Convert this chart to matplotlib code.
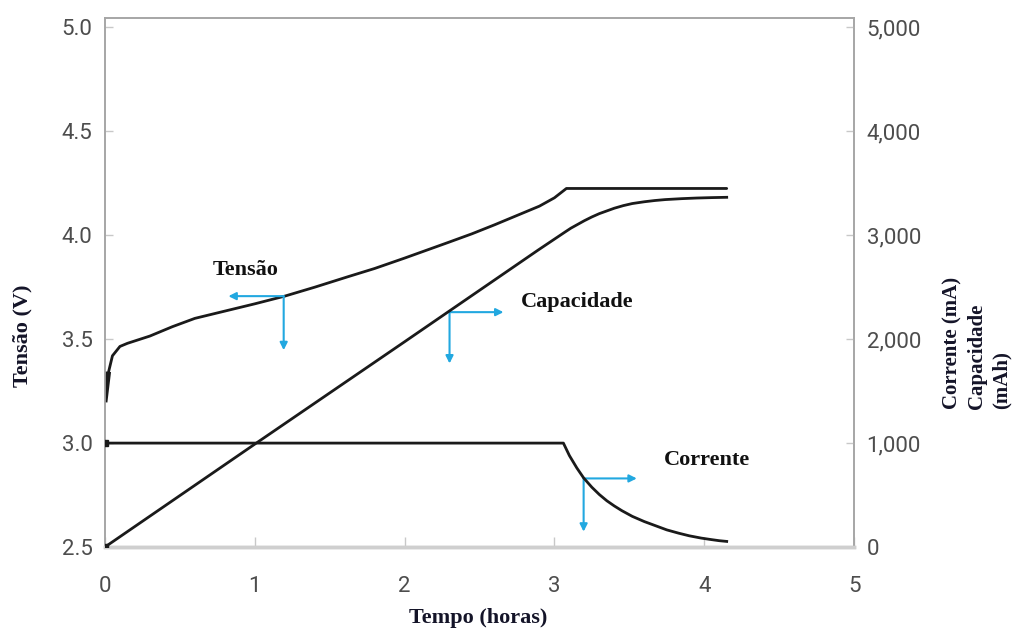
import matplotlib
matplotlib.use("Agg")
import matplotlib.pyplot as plt

# ---- data ----
time_v = [0.0, 0.01, 0.02, 0.05, 0.1, 0.15, 0.3, 0.45, 0.6, 0.8, 1.0, 1.2, 1.4,
          1.62, 1.8, 2.0, 2.29, 2.45, 2.6, 2.75, 2.9, 3.0, 3.08, 4.15]
voltage = [3.21, 3.27, 3.33, 3.42, 3.465, 3.48, 3.515, 3.56, 3.60, 3.635, 3.67,
           3.707, 3.75, 3.80, 3.84, 3.89, 3.965, 4.007, 4.05, 4.095, 4.14, 4.18,
           4.225, 4.225]

time_i = [0.0, 3.06, 3.1, 3.15, 3.195, 3.25, 3.3, 3.35, 3.4, 3.45, 3.52, 3.6,
          3.675, 3.75, 3.83, 3.9, 3.98, 4.05, 4.1, 4.15]
current = [1000, 1000, 880, 760, 665, 575, 505, 445, 395, 350, 295, 245, 205,
           165, 133, 108, 86, 71, 61, 54]

time_c = [0.0, 1.0, 2.0, 2.89, 3.07, 3.11, 3.15, 3.2, 3.25, 3.3, 3.4, 3.46, 3.52,
          3.6, 3.67, 3.74, 3.85, 3.95, 4.05, 4.15]
capacity = [0, 990, 1975, 2856, 3030, 3068, 3100, 3140, 3176, 3208, 3260, 3285,
            3305, 3322, 3334, 3343, 3352, 3358, 3362, 3365]

x_ticks = [0, 1, 2, 3, 4, 5]
v_ticks = [2.5, 3.0, 3.5, 4.0, 4.5, 5.0]
r_ticks = [0, 1000, 2000, 3000, 4000, 5000]

# annotations: label, text position, arrow corner, horizontal arrow end x, vertical arrow end y
ann_labels = ["Tensão", "Capacidade", "Corrente"]
ann_text_xy = [(0.94, 3.835), (3.15, 3.678), (4.02, 2.92)]
ann_corner = [(1.193, 3.707), (2.30, 3.63), (3.195, 2.83)]
ann_hx = [0.824, 2.66, 3.55]
ann_vy = [3.447, 3.383, 2.574]

# ---- figure ----
fig = plt.figure(figsize=(10.16, 6.3), dpi=100)
ax = fig.add_axes([0.1033, 0.1317, 0.8406 - 0.1033, 0.9714 - 0.1317])
ax2 = ax.twinx()

line_c = "#1a1a1a"
ax.plot(time_v, voltage, color=line_c, lw=2, solid_joinstyle="round",
        solid_capstyle="round", zorder=3)
ax.plot(time_v[:3], voltage[:3], color=line_c, lw=4, zorder=3)
ax2.plot(time_i, current, color=line_c, lw=2, solid_joinstyle="round", zorder=3)
ax2.plot(time_c, capacity, color=line_c, lw=2, solid_joinstyle="round", zorder=3)
ax2.plot([time_i[0]], [current[0]], marker="s", ms=4, color=line_c, zorder=4)
ax2.plot([time_c[0]], [capacity[0]], marker="s", ms=4, color=line_c, zorder=4)

ax.set_xlim(0, 5.0)
ax.set_ylim(2.5, 5.045)
ax2.set_ylim(0, 5090)

tick_font = dict(family="Roboto", size=16)
ax.set_xticks(x_ticks)
ax.set_yticks(v_ticks)
ax.set_yticklabels([f"{v:.1f}" for v in v_ticks], fontdict=tick_font, color="#4d4d4d")
ax.set_xticklabels([str(v) for v in x_ticks], fontdict=tick_font, color="#4d4d4d")
ax2.set_yticks(r_ticks)
ax2.set_yticklabels([f"{v:,}" for v in r_ticks], fontdict=tick_font, color="#4d4d4d")

ax.tick_params(axis="y", direction="in", length=6, width=1, color="#c8c8c8", pad=9)
ax.tick_params(axis="x", direction="in", length=7, width=1, color="#c8c8c8", pad=21)
ax2.tick_params(axis="y", direction="in", length=6, width=1, color="#c8c8c8", pad=9)

for a in (ax, ax2):
    for s in ("left", "right", "top"):
        a.spines[s].set_color("#a6a6a6")
        a.spines[s].set_linewidth(1.2)
    a.spines["bottom"].set_color("#cfcfcf")
    a.spines["bottom"].set_linewidth(2.5)

serif_b = dict(family="Liberation Serif", weight="bold")
lab_col = "#141428"
fig.text(22 / 1016, 1 - 336 / 630, "Tensão (V)", rotation=90, ha="center",
         va="center", fontsize=16, color=lab_col, **serif_b)
fig.text(478 / 1016, 1 - 618 / 630, "Tempo (horas)", ha="center", va="center",
         fontsize=16, color=lab_col, **serif_b)
fig.text(977 / 1016, 1 - 343 / 630, "Corrente (mA)\nCapacidade\n(mAh)", rotation=90,
         ha="center", va="center", multialignment="left", linespacing=1.3,
         fontsize=15, color=lab_col, **serif_b)

blue = "#22a8e0"
for lab, txy, cxy, hx, vy in zip(ann_labels, ann_text_xy, ann_corner, ann_hx, ann_vy):
    ax.text(txy[0], txy[1], lab, ha="center", va="center", fontsize=16,
            color="#111111", zorder=5, **serif_b)
    ax.annotate("", xy=(hx, cxy[1]), xytext=cxy,
                arrowprops=dict(arrowstyle="-|>", color=blue, lw=1.5,
                                mutation_scale=11, shrinkA=0, shrinkB=0), zorder=5)
    ax.annotate("", xy=(cxy[0], vy), xytext=cxy,
                arrowprops=dict(arrowstyle="-|>", color=blue, lw=1.5,
                                mutation_scale=11, shrinkA=0, shrinkB=0), zorder=5)

fig.savefig("out.png", dpi=100)
